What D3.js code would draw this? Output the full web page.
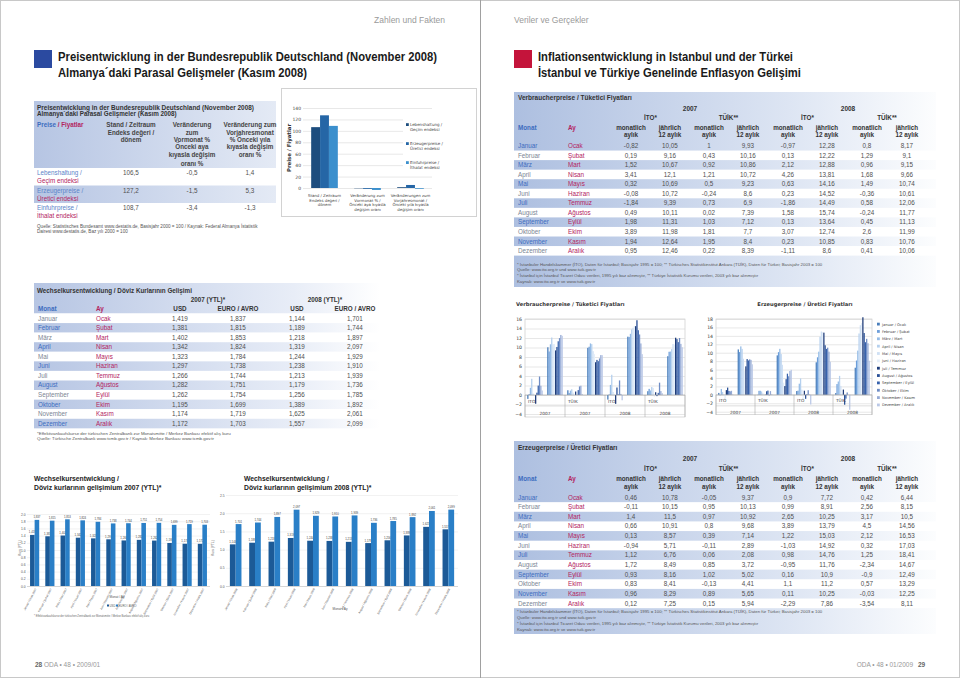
<!DOCTYPE html>
<html><head><meta charset="utf-8">
<script src="https://cdn.jsdelivr.net/npm/d3@7/dist/d3.min.js"></script>
<style>
html,body{margin:0;padding:0;background:#fff;overflow:hidden}
svg{display:block}
text{font-family:"Liberation Sans",Arial,Helvetica,sans-serif}
.v{font-family:"DejaVu Sans",Verdana,sans-serif}
</style></head><body>
<svg id="page" width="960" height="679"></svg>
<script>
// ================= DATA =================
const monthsDE = ["Januar","Februar","März","April","Mai","Juni","Juli","August","September","Oktober","November","Dezember"];
const monthsTR = ["Ocak","Şubat","Mart","Nisan","Mayıs","Haziran","Temmuz","Ağustos","Eylül","Ekim","Kasım","Aralık"];

// Preisentwicklung Deutschland
const priceRowsDE = ["Lebenshaltung /","Erzeugerpreise /","Einfuhrpreise /"];
const priceRowsTR = ["Geçim endeksi","Üretici endeksi","İthalat endeksi"];
const priceIndex = [106.5, 127.2, 108.7];
const priceVsPrevMonth = [-0.5, -1.5, -3.4];
const priceVsPrevYear = [1.4, 5.3, -1.3];
const priceChartCats = [
  ["Stand / Zeitraum","Endeks değeri /","dönem"],
  ["Veränderung zum","Vormonat % /","Önceki aya kıyasla","değişim oranı"],
  ["Veränderungen zum","Vorjahresmonat /","Önceki yıla kıyasla","değişim oranı"]
];
const priceTicks = [0,20,40,60,80,100,120,140];

// Wechselkurse
const usd2007 = [1.419,1.381,1.402,1.342,1.323,1.297,1.266,1.282,1.262,1.195,1.174,1.172];
const eur2007 = [1.837,1.815,1.853,1.824,1.784,1.738,1.744,1.751,1.754,1.699,1.719,1.703];
const usd2008 = [1.144,1.189,1.218,1.319,1.244,1.238,1.213,1.179,1.256,1.389,1.625,1.557];
const eur2008 = [1.701,1.744,1.897,2.097,1.929,1.910,1.939,1.736,1.785,1.892,2.061,2.099];
const fx2007Ticks = [0,0.2,0.4,0.6,0.8,1,1.2,1.4,1.6,1.8,2];
const fx2008Ticks = [0,0.5,1,1.5,2,2.5];

// Verbraucherpreise (CPI)
const cpiIto2007M  = [-0.82,0.19,1.52,3.41,0.32,-0.08,-1.84,0.49,1.98,3.89,1.94,0.95];
const cpiIto2007Y  = [10.05,9.16,10.67,12.1,10.69,10.72,9.39,10.11,11.31,11.98,12.64,12.46];
const cpiTuik2007M = [1,0.43,0.92,1.21,0.5,-0.24,0.73,0.02,1.03,1.81,1.95,0.22];
const cpiTuik2007Y = [9.93,10.16,10.86,10.72,9.23,8.6,6.9,7.39,7.12,7.7,8.4,8.39];
const cpiIto2008M  = [-0.97,0.13,2.12,4.26,0.63,0.23,-1.86,1.58,0.13,3.07,0.23,-1.11];
const cpiIto2008Y  = [12.28,12.22,12.88,13.81,14.16,14.52,14.49,15.74,13.64,12.74,10.85,8.6];
const cpiTuik2008M = [0.8,1.29,0.96,1.68,1.49,-0.36,0.58,-0.24,0.45,2.6,0.83,0.41];
const cpiTuik2008Y = [8.17,9.1,9.15,9.66,10.74,10.61,12.06,11.77,11.13,11.99,10.76,10.06];

// Erzeugerpreise (PPI)
const ppiIto2007M  = [0.46,-0.11,1.4,0.66,0.13,-0.94,1.12,1.72,0.93,0.83,0.96,0.12];
const ppiIto2007Y  = [10.78,10.15,11.5,10.91,8.57,5.71,6.76,8.49,8.16,8.41,8.29,7.25];
const ppiTuik2007M = [-0.05,0.95,0.97,0.8,0.39,-0.11,0.06,0.85,1.02,-0.13,0.89,0.15];
const ppiTuik2007Y = [9.37,10.13,10.92,9.68,7.14,2.89,2.08,3.72,5.02,4.41,5.65,5.94];
const ppiIto2008M  = [0.9,0.99,2.65,3.89,1.22,-1.03,0.98,-0.95,0.16,1.1,0.11,-2.29];
const ppiIto2008Y  = [7.72,8.91,10.25,13.79,15.03,14.92,14.76,11.76,10.9,11.2,10.25,7.86];
const ppiTuik2008M = [0.42,2.56,3.17,4.5,2.12,0.32,1.25,-2.34,-0.9,0.57,-0.03,-3.54];
const ppiTuik2008Y = [6.44,8.15,10.5,14.56,16.53,17.03,18.41,14.67,12.49,13.29,12.25,8.11];
const cpiTicks = [-4,-2,0,2,4,6,8,10,12,14,16];
const ppiTicks = [-4,-2,0,2,4,6,8,10,12,14,16,18];
const inflInstitutes = ["ITO","TÜIK","ITO","TÜIK"];
const inflYears = ["2007","2007","2008","2008"];
const tableInst = ["İTO*","TÜİK**","İTO*","TÜİK**"];
const tableHead1 = ["monatlich","jährlich"];
const tableHead2 = ["aylık","12 aylık"];

// ================= HELPERS =================
const svg = d3.select("#page");
const defs = svg.append("defs");
function lin(id, stops){
  const lg = defs.append("linearGradient").attr("id",id).attr("x1",0).attr("x2",1).attr("y1",0).attr("y2",0);
  stops.forEach(([o,c])=>lg.append("stop").attr("offset",o).attr("stop-color",c));
}
lin("gT1",[[0,"#b6c5e3"],[1,"#e4eaf5"]]);
lin("gFx",[[0,"#b6c5e3"],[0.75,"#e8edf7"],[1,"#ffffff"]]);
lin("gInf",[[0,"#adbfe0"],[0.65,"#dde5f3"],[1,"#fcfdfe"]]);

const BLUE_TXT="#3c6cbf", MAG="#b3245f", GRAY_TXT="#7c8694", VAL="#505050";
const fmtC = v => String(v).replace(".", ",");
const fmt3 = v => d3.format(".3f")(v).replace(".", ",");

function T(g,x,y,s,o={}){
  const t=g.append("text").attr("x",x).attr("y",y).text(s)
    .attr("font-size",o.size||6.3).attr("fill",o.fill||"#4a4a4a")
    .attr("text-anchor",o.anchor||"start");
  if(o.bold) t.attr("font-weight","bold");
  if(o.cls) t.attr("class",o.cls);
  if(o.len) t.attr("textLength",o.len).attr("lengthAdjust","spacingAndGlyphs");
  return t;
}

// ================= PAGE FRAME =================
svg.append("rect").attr("x",0.5).attr("y",0.5).attr("width",959).attr("height",677).attr("fill","none").attr("stroke","#c8c8c8");
svg.append("line").attr("x1",480.5).attr("x2",480.5).attr("y1",0).attr("y2",678).attr("stroke","#a0a0a0");

// headers
T(svg,445,23,"Zahlen und Fakten",{size:8.5,fill:"#9a9a9a",anchor:"end"});
T(svg,514,23,"Veriler ve Gerçekler",{size:8.5,fill:"#9a9a9a"});
svg.append("rect").attr("x",34).attr("y",50).attr("width",18).attr("height",18).attr("fill","#2b4aa0");
svg.append("rect").attr("x",514).attr("y",50).attr("width",18).attr("height",18).attr("fill","#c4143b");
T(svg,58,61,"Preisentwicklung in der Bundesrepublik Deutschland (November 2008)",{bold:1,size:12.6,fill:"#1a1a1a",len:379});
T(svg,58,77,"Almanya´daki Parasal Gelişmeler (Kasım 2008)",{bold:1,size:12.6,fill:"#1a1a1a",len:249});
T(svg,538,61,"Inflationsentwicklung in Istanbul und der Türkei",{bold:1,size:12.6,fill:"#1a1a1a",len:255});
T(svg,538,77,"İstanbul ve Türkiye Genelinde Enflasyon Gelişimi",{bold:1,size:12.6,fill:"#1a1a1a",len:263});

// footer
T(svg,35,667,"28",{bold:1,size:6.5,fill:"#666"});
T(svg,44,667,"ODA • 48 • 2009/01",{size:6.5,fill:"#999"});
T(svg,913,667,"ODA • 48 • 01/2009",{size:6.5,fill:"#999",anchor:"end"});
T(svg,918,667,"29",{bold:1,size:6.5,fill:"#666"});

// ================= TABLE 1 =================
(function(){
  const g=svg.append("g"), x0=34, x1=276;
  g.append("rect").attr("x",x0).attr("y",101).attr("width",x1-x0).attr("height",67).attr("fill","url(#gT1)");
  const rowY=d3.scaleBand().domain(d3.range(3)).range([168,220.5]);
  g.selectAll(null).data(priceRowsDE).join("rect").attr("x",x0).attr("y",(d,i)=>rowY(i))
    .attr("width",x1-x0).attr("height",rowY.bandwidth()).attr("fill",(d,i)=>i===1?"url(#gT1)":"#fff");
  T(g,37,109.5,"Preisentwicklung in der Bundesrepublik Deutschland (November 2008)",{bold:1,size:6.3,fill:"#333",len:217});
  T(g,37,116,"Almanya´daki Parasal Gelişmeler (Kasım 2008)",{bold:1,size:6.3,fill:"#333"});
  const t=T(g,37,127.3,"",{bold:1,size:6.3});
  t.append("tspan").text("Preise").attr("fill",BLUE_TXT);
  t.append("tspan").text(" / Fiyatlar").attr("fill",MAG);
  const heads=[
    [131,["Stand / Zeitraum","Endeks değeri /","dönem"]],
    [192,["Veränderung","zum","Vormonat %","Önceki aya","kıyasla değişim","oranı %"]],
    [250,["Veränderung zum","Vorjahresmonat","%  Önceki yıla","kıyasla değişim","oranı %"]]
  ];
  const hy=[127.3,134.6,141.6,149.3,157.3,165.6];
  heads.forEach(([cx,lines])=>lines.forEach((l,j)=>T(g,cx,hy[j],l,{bold:1,size:6.3,fill:"#444",anchor:"middle"})));
  priceRowsDE.forEach((d,i)=>{
    const b=rowY(i);
    T(g,37,b+7.3,d,{size:6.3,fill:"#5b84c9"});
    T(g,37,b+15.3,priceRowsTR[i],{size:6.3,fill:MAG});
    T(g,131,b+7.3,fmtC(priceIndex[i]),{size:6.3,fill:VAL,anchor:"middle"});
    T(g,192,b+7.3,fmtC(priceVsPrevMonth[i]),{size:6.3,fill:VAL,anchor:"middle"});
    T(g,250,b+7.3,fmtC(priceVsPrevYear[i]),{size:6.3,fill:VAL,anchor:"middle"});
  });
  T(g,37,227.5,"Quelle: Statistisches Bundesamt www.destatis.de, Basisjahr 2000 = 100 / Kaynak: Federal Almanya İstatistik",{size:4.6,fill:"#555"});
  T(g,37,233,"Dairesi www.destatis.de, Baz yılı 2000 = 100",{size:4.6,fill:"#555"});
})();

// ================= TOP BAR CHART =================
(function(){
  const g=svg.append("g");
  g.append("rect").attr("x",281.5).attr("y",88.5).attr("width",195).attr("height",128).attr("fill","#fff").attr("stroke","#d2d2d2");
  const y=d3.scaleLinear().domain([0,140]).range([188,108]);
  const x=d3.scaleBand().domain(d3.range(3)).range([303,432]);
  const xi=d3.scaleBand().domain(d3.range(3)).range([x.bandwidth()*0.19,x.bandwidth()*0.81]);
  const colors=["#1d4d7e","#2566a6","#3b8fcd"];
  g.append("g").attr("transform","translate(303,0)")
    .call(d3.axisLeft(y).tickValues(priceTicks).tickSize(-129).tickFormat(""))
    .call(s=>{s.select(".domain").remove();s.selectAll("line").attr("stroke","#d9d9d9").attr("stroke-width",0.6);});
  g.append("g").attr("transform","translate(301,0)")
    .call(d3.axisLeft(y).tickValues(priceTicks).tickSize(0).tickPadding(0))
    .call(s=>{s.select(".domain").remove();s.selectAll("text").attr("class","v").attr("font-size",4.5).attr("fill","#444");});
  const series=[0,1,2].map(k=>[priceIndex[k],priceVsPrevMonth[k],priceVsPrevYear[k]]);
  series.forEach((vals,k)=>{
    g.selectAll(null).data(vals).join("rect")
      .attr("x",(d,c)=>x(c)+xi(k)).attr("width",xi.bandwidth())
      .attr("y",d=>Math.min(y(d),y(0))).attr("height",d=>Math.abs(y(d)-y(0)))
      .attr("fill",colors[k]);
  });
  T(g,0,0,"Preise / Fiyatlar",{bold:1,size:5.4,fill:"#333",anchor:"middle",cls:"v"}).attr("transform","translate(291,148) rotate(-90)");
  priceChartCats.forEach((lines,c)=>lines.forEach((l,j)=>T(g,x(c)+x.bandwidth()/2,197+j*4.7,l,{size:3.9,fill:"#444",anchor:"middle",cls:"v"})));
  g.append("rect").attr("x",403).attr("y",119).attr("width",48).attr("height",56).attr("fill","#fff");
  priceRowsDE.forEach((d,k)=>{
    const ly=126+k*19;
    g.append("rect").attr("x",406).attr("y",ly-2.8).attr("width",2.8).attr("height",2.8).attr("fill",colors[k]);
    T(g,410,ly,d,{size:4,fill:"#444",cls:"v"});
    T(g,410,ly+5,priceRowsTR[k],{size:4,fill:"#444",cls:"v"});
  });
})();

// ================= EXCHANGE TABLE =================
(function(){
  const g=svg.append("g"), x0=34, x1=380;
  g.append("rect").attr("x",x0).attr("y",283).attr("width",x1-x0).attr("height",30.5).attr("fill","url(#gFx)");
  const rowY=d3.scaleBand().domain(d3.range(12)).range([313.5,313.5+12*9.57]);
  g.selectAll(null).data(monthsDE).join("rect").attr("x",x0).attr("y",(d,i)=>rowY(i))
    .attr("width",x1-x0).attr("height",rowY.bandwidth()).attr("fill",(d,i)=>i%2?"url(#gFx)":"#fff");
  T(g,37,292.5,"Wechselkursentwicklung / Döviz Kurlarının Gelişimi",{bold:1,size:6.3,fill:"#333"});
  T(g,208,301.5,"2007 (YTL)*",{bold:1,size:6.3,fill:"#333",anchor:"middle"});
  T(g,325,301.5,"2008 (YTL)*",{bold:1,size:6.3,fill:"#333",anchor:"middle"});
  T(g,38,311,"Monat",{bold:1,size:6.3,fill:BLUE_TXT});
  T(g,96,311,"Ay",{bold:1,size:6.3,fill:MAG});
  const cols=[180,238,297,355];
  ["USD","EURO / AVRO","USD","EURO / AVRO"].forEach((h,j)=>T(g,cols[j],311,h,{bold:1,size:6.3,fill:"#333",anchor:"middle"}));
  const vals=[usd2007,eur2007,usd2008,eur2008];
  monthsDE.forEach((m,i)=>{
    const b=rowY(i)+7;
    T(g,38,b,m,{size:6.3,fill:i%2?BLUE_TXT:GRAY_TXT});
    T(g,96,b,monthsTR[i],{size:6.3,fill:MAG});
    vals.forEach((arr,j)=>T(g,cols[j],b,fmt3(arr[i]),{size:6.3,fill:VAL,anchor:"middle"}));
  });
  T(g,37,434.5,"*Effektivankaufskurse der türkischen Zentralbank zur Monatsmitte / Merkez Bankası efektif alış kuru",{size:4.4,fill:"#555"});
  T(g,37,440,"Quelle: Türkische Zentralbank www.tcmb.gov.tr / Kaynak: Merkez Bankası www.tcmb.gov.tr",{size:4.4,fill:"#555"});
})();

// ================= EXCHANGE CHARTS =================
function fxChart(o){
  const g=svg.append("g");
  T(g,o.tx,480.5,"Wechselkursentwicklung /",{bold:1,size:6.8,fill:"#222"});
  T(g,o.tx,489.5,o.title2,{bold:1,size:6.8,fill:"#222"});
  const y=d3.scaleLinear().domain([0,o.max]).range([586,o.yTop]);
  const x=d3.scaleBand().domain(d3.range(12)).range([o.x0,o.x1]);
  const xi=d3.scaleBand().domain([0,1]).range([x.bandwidth()*0.2,x.bandwidth()*0.8]);
  g.append("g").attr("transform",`translate(${o.x0},0)`)
    .call(d3.axisLeft(y).tickValues(o.ticks).tickSize(-(o.x1-o.x0)).tickFormat(""))
    .call(s=>{s.select(".domain").remove();s.selectAll("line").attr("stroke","#e4e4e4").attr("stroke-width",0.5);});
  g.append("g").attr("transform",`translate(${o.x0-1.5},0)`)
    .call(d3.axisLeft(y).tickValues(o.ticks).tickSize(0).tickPadding(0))
    .call(s=>{s.select(".domain").remove();s.selectAll("text").attr("font-size",3.3).attr("fill","#555");});
  const colors=["#1c5a97","#2a7fc7"];
  [o.usd,o.eur].forEach((vals,k)=>{
    g.selectAll(null).data(vals).join("rect")
      .attr("x",(d,i)=>x(i)+xi(k)).attr("width",xi.bandwidth())
      .attr("y",d=>y(d)).attr("height",d=>y(0)-y(d)).attr("fill",colors[k]);
    g.selectAll(null).data(vals).join("text")
      .attr("x",(d,i)=>x(i)+xi(k)+xi.bandwidth()/2).attr("y",d=>y(d)-1.5)
      .attr("text-anchor","middle").attr("font-size",2.8).attr("fill","#444").text(fmt3);
  });
  g.append("line").attr("x1",o.x0).attr("x2",o.x1).attr("y1",586.5).attr("y2",586.5).attr("stroke","#bbb").attr("stroke-width",0.5);
  monthsDE.forEach((m,i)=>{
    g.append("text").attr("transform",`translate(${x(i)+x.bandwidth()/2+2},589) rotate(-62)`)
      .attr("text-anchor","end").attr("font-size",2.8).attr("fill","#555").text(m+" / "+monthsTR[i]+" "+o.year);
  });
  T(g,0,0,"Kurs (YTL)",{size:3.2,fill:"#555",anchor:"middle"}).attr("transform",`translate(${o.yl},548) rotate(-90)`);
  T(g,o.axX,o.axY,"Monat / Ay",{size:3.2,fill:"#555",anchor:"middle"});
  if(o.legend){
    g.append("rect").attr("x",o.axX-10).attr("y",604.5).attr("width",2).attr("height",2).attr("fill",colors[0]);
    T(g,o.axX-7.5,606.5,"USD",{size:2.8,fill:"#555"});
    g.append("rect").attr("x",o.axX-1).attr("y",604.5).attr("width",2).attr("height",2).attr("fill",colors[1]);
    T(g,o.axX+1.5,606.5,"EURO / AVRO",{size:2.8,fill:"#555"});
  }
}
fxChart({tx:34,title2:"Döviz kurlarının gelişimium 2007 (YTL)*",max:2,yTop:514,ticks:fx2007Ticks,x0:27,x1:210,usd:usd2007,eur:eur2007,year:"2007",yl:21,axX:117,axY:598,legend:true});
fxChart({tx:244,title2:"Döviz kurlarının gelişimium 2008 (YTL)*",max:2.5,yTop:495,ticks:fx2008Ticks,x0:226,x1:458,usd:usd2008,eur:eur2008,year:"2008",yl:214,axX:340,axY:610,legend:false});
T(svg,34,617,"* Effektivankaufskurse der türkischen Zentralbank zur Monatsmitte / Merkez Bankası efektif alış kuru",{size:2.6,fill:"#666"});

// ================= INFLATION TABLES =================
function inflTable(o){
  const g=svg.append("g"), x0=514, x1=936;
  g.append("rect").attr("x",x0).attr("y",o.top).attr("width",x1-x0).attr("height",o.bottom-o.top).attr("fill","url(#gInf)");
  const rowY=d3.scaleBand().domain(d3.range(12)).range([o.rowsTop,o.rowsTop+12*o.rowH]);
  g.selectAll(null).data(monthsDE).join("rect").attr("x",x0).attr("y",(d,i)=>rowY(i))
    .attr("width",x1-x0).attr("height",rowY.bandwidth()).attr("fill",(d,i)=>i%2?"#fff":"none");
  T(g,518,o.titleY,o.title,{bold:1,size:6.5,fill:"#333"});
  const cols=[631,670,709,748,788,827,867,907];
  T(g,690,o.yearY,"2007",{bold:1,size:6.5,fill:"#333",anchor:"middle"});
  T(g,848,o.yearY,"2008",{bold:1,size:6.5,fill:"#333",anchor:"middle"});
  tableInst.forEach((s,j)=>T(g,(cols[2*j]+cols[2*j+1])/2,o.instY,s,{bold:1,size:6.3,fill:"#333",anchor:"middle"}));
  T(g,518,o.h1Y,"Monat",{bold:1,size:6.3,fill:BLUE_TXT});
  T(g,568,o.h1Y,"Ay",{bold:1,size:6.3,fill:MAG});
  cols.forEach((cx,j)=>{
    T(g,cx,o.h1Y,tableHead1[j%2],{bold:1,size:6.3,fill:"#333",anchor:"middle"});
    T(g,cx,o.h2Y,tableHead2[j%2],{bold:1,size:6.3,fill:"#333",anchor:"middle"});
  });
  monthsDE.forEach((m,i)=>{
    const b=rowY(i)+7;
    T(g,518,b,m,{size:6.3,fill:i%2?GRAY_TXT:BLUE_TXT});
    T(g,568,b,monthsTR[i],{size:6.3,fill:MAG});
    o.series.forEach((arr,j)=>T(g,cols[j],b,fmtC(arr[i]),{size:6.3,fill:VAL,anchor:"middle"}));
  });
  const notes=["* Istanbuler Handelskammer (İTO), Daten für Istanbul; Basisjahr 1995 = 100; ** Türkisches Statistikinstitut Ankara (TÜİK), Daten für Türkei; Basisjahr 2003 = 100",
    "Quelle: www.ito.org.tr und www.tuik.gov.tr",
    "* İstanbul için İstanbul Ticaret Odası verileri, 1995 yılı baz alınmıştır, ** Türkiye İstatistik Kurumu verileri, 2003 yılı baz alınmıştır",
    "Kaynak: www.ito.org.tr ve www.tuik.gov.tr"];
  notes.forEach((n,j)=>T(g,517,o.footY[j],n,{size:4.3,fill:"#555"}));
}
inflTable({top:92,bottom:287,title:"Verbraucherpreise / Tüketici Fiyatları",titleY:100,yearY:111,instY:120,h1Y:130,h2Y:136.5,rowsTop:141,rowH:9.55,footY:[265.5,271,277,282.5],
  series:[cpiIto2007M,cpiIto2007Y,cpiTuik2007M,cpiTuik2007Y,cpiIto2008M,cpiIto2008Y,cpiTuik2008M,cpiTuik2008Y]});
inflTable({top:441,bottom:634,title:"Erzeugerpreise / Üretici Fiyatları",titleY:449.5,yearY:460.5,instY:471,h1Y:481,h2Y:489,rowsTop:492.5,rowH:9.64,footY:[613,619,625,630.5],
  series:[ppiIto2007M,ppiIto2007Y,ppiTuik2007M,ppiTuik2007Y,ppiIto2008M,ppiIto2008Y,ppiTuik2008M,ppiTuik2008Y]});

// ================= INFLATION CHARTS =================
const monthColors=["#4a7ebb","#6d9eda","#94bbe6","#b5d0ee","#cfe0f4","#e4eef9","#1f3d7a","#284f96","#3762ac","#6f8dc5","#95aad5","#bac8e6"];
function inflChart(o){
  const g=svg.append("g");
  const y=d3.scaleLinear().domain([o.ticks[0],o.ticks[o.ticks.length-1]]).range([o.yBot,o.yTop]);
  const xo=d3.scaleBand().domain(d3.range(8)).range([o.x0,o.x1]).paddingInner(0.22).paddingOuter(0.11);
  const xi=d3.scaleBand().domain(d3.range(12)).range([0,xo.bandwidth()]);
  g.append("rect").attr("x",o.x0).attr("y",o.yTop).attr("width",o.x1-o.x0).attr("height",o.yBot-o.yTop+3).attr("fill","#fff").attr("stroke","#c4c4c4").attr("stroke-width",0.6);
  g.append("g").attr("transform",`translate(${o.x0},0)`)
    .call(d3.axisLeft(y).tickValues(o.ticks).tickSize(-(o.x1-o.x0)).tickFormat(""))
    .call(s=>{s.select(".domain").remove();s.selectAll("line").attr("stroke","#d6d6d6").attr("stroke-width",0.6);});
  g.append("g").attr("transform",`translate(${o.x0-3},0)`)
    .call(d3.axisLeft(y).tickValues(o.ticks).tickSize(0).tickPadding(0))
    .call(s=>{s.select(".domain").remove();s.selectAll("text").attr("class","v").attr("font-size",4.6).attr("fill","#333");});
  o.series.forEach((vals,k)=>{
    g.selectAll(null).data(vals).join("rect")
      .attr("x",(d,i)=>xo(k)+xi(i)).attr("width",xi.bandwidth())
      .attr("y",d=>Math.min(y(d),y(0))).attr("height",d=>Math.abs(y(d)-y(0)))
      .attr("fill",(d,i)=>monthColors[i]);
  });
  const y0=y(0), gw=(o.x1-o.x0)/4;
  g.append("line").attr("x1",o.x0).attr("x2",o.x1).attr("y1",y0).attr("y2",y0).attr("stroke","#9a9a9a").attr("stroke-width",0.6);
  g.append("line").attr("x1",o.x0).attr("x2",o.x1).attr("y1",y0+11).attr("y2",y0+11).attr("stroke","#bdbdbd").attr("stroke-width",0.5);
  d3.range(5).forEach(j=>g.append("line").attr("x1",o.x0+j*gw).attr("x2",o.x0+j*gw).attr("y1",y0).attr("y2",o.yBot+3).attr("stroke","#9a9a9a").attr("stroke-width",0.5));
  inflInstitutes.forEach((s,j)=>{
    T(g,o.x0+j*gw+3,y0+7.5,s,{size:4.3,fill:"#444",cls:"v"});
    T(g,o.x0+j*gw+gw/2,y0+19.5,inflYears[j],{size:4.3,fill:"#444",anchor:"middle",cls:"v"});
  });
  T(g,o.titleX,305.5,o.title,{bold:1,size:5.2,fill:"#333",anchor:o.titleAnchor,cls:"v"});
  if(o.legend){
    monthsDE.forEach((m,i)=>{
      const ly=325.5+i*7.35;
      g.append("rect").attr("x",877).attr("y",ly-2.8).attr("width",2.8).attr("height",2.8).attr("fill",monthColors[i]);
      T(g,882,ly,m+" / "+monthsTR[i],{size:3.6,fill:"#444",cls:"v"});
    });
  }
}
inflChart({x0:525,x1:685,yTop:319,yBot:414,ticks:cpiTicks,title:"Verbraucherpreise / Tüketici Fiyatları",titleX:516,titleAnchor:"start",
  series:[cpiIto2007M,cpiIto2007Y,cpiTuik2007M,cpiTuik2007Y,cpiIto2008M,cpiIto2008Y,cpiTuik2008M,cpiTuik2008Y]});
inflChart({x0:716,x1:872,yTop:319,yBot:411.7,ticks:ppiTicks,title:"Erzeugerpreise / Üretici Fiyatları",titleX:805,titleAnchor:"middle",legend:true,
  series:[ppiIto2007M,ppiIto2007Y,ppiTuik2007M,ppiTuik2007Y,ppiIto2008M,ppiIto2008Y,ppiTuik2008M,ppiTuik2008Y]});
</script></body></html>
